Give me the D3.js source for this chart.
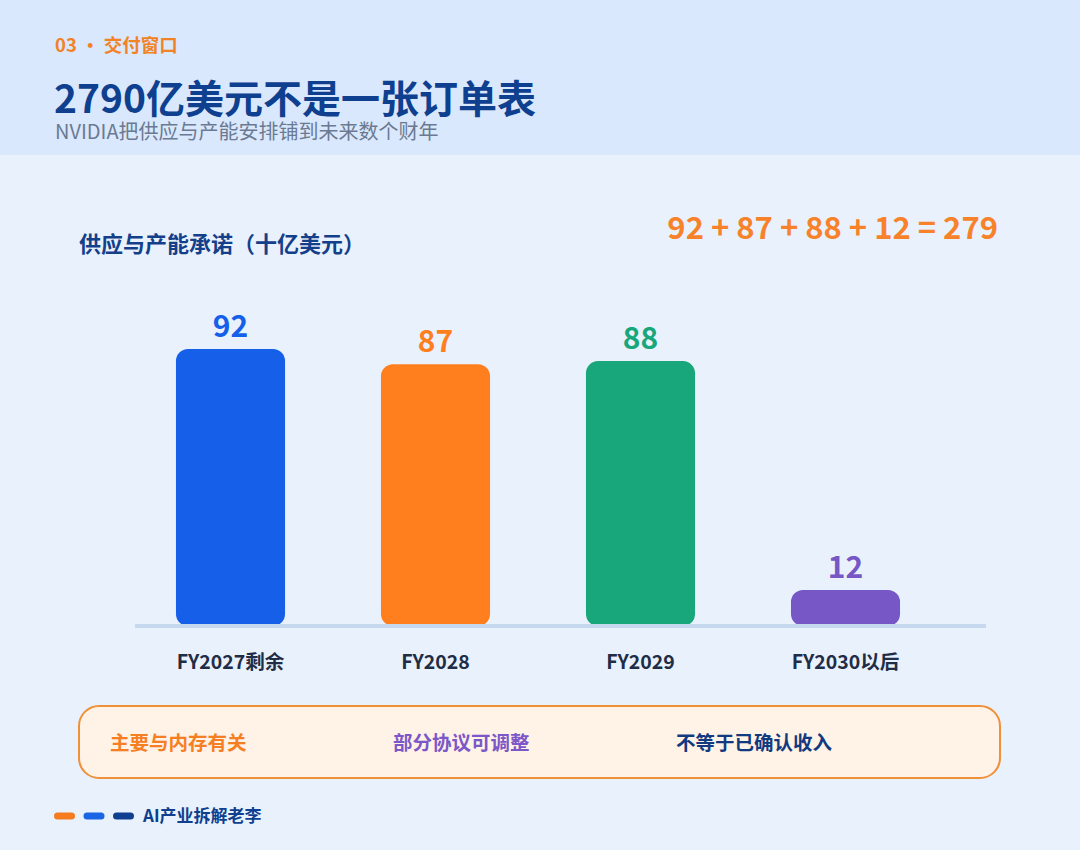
<!DOCTYPE html>
<html>
<head>
<meta charset="utf-8">
<script src="https://cdn.jsdelivr.net/npm/d3@7/dist/d3.min.js"></script>
<style>
  html, body { margin: 0; padding: 0; background: #e9f1fd; }
  svg { display: block; font-family: "Noto Sans CJK SC", "Noto Sans", sans-serif; }
</style>
</head>
<body>
<svg id="chart" width="1080" height="850"></svg>
<script>
// ---- data ----
const categories = ["FY2027剩余", "FY2028", "FY2029", "FY2030以后"];
const values = [92, 87, 88, 12];
const barColors = ["#155fe9", "#ff7e1d", "#18a77a", "#7657c5"];
const notes = ["主要与内存有关", "部分协议可调整", "不等于已确认收入"];
const noteColors = ["#f57f22", "#7b57c8", "#123a80"];
const kicker = "03 · 交付窗口";
const title = "2790亿美元不是一张订单表";
const subtitle = "NVIDIA把供应与产能安排铺到未来数个财年";
const axisTitle = "供应与产能承诺（十亿美元）";
const equation = "92 + 87 + 88 + 12 = 279";
const footerText = "AI产业拆解老李";
const footerPills = ["#f47b20", "#1a64e6", "#0f3f8f"];

const svg = d3.select("#chart");
const W = 1080, H = 850;

// background
svg.append("rect").attr("x", 0).attr("y", 0).attr("width", W).attr("height", H).attr("fill", "#e9f1fd");
svg.append("rect").attr("x", 0).attr("y", 0).attr("width", W).attr("height", 155).attr("fill", "#d9e8fc");

// header texts
svg.append("text").attr("x", 55).attr("y", 52).attr("fill", "#f28226")
  .attr("font-size", 18.5).attr("font-weight", 700).text(kicker);
svg.append("text").attr("x", 54).attr("y", 112.5).attr("fill", "#0f3f8f")
  .attr("font-size", 39).attr("font-weight", 700).text(title);
svg.append("text").attr("x", 55).attr("y", 139).attr("fill", "#6b7a92")
  .attr("font-size", 20).attr("font-weight", 400).text(subtitle);

// chart headings
svg.append("text").attr("x", 79).attr("y", 252).attr("fill", "#143f8a")
  .attr("font-size", 22).attr("font-weight", 700).text(axisTitle);
svg.append("text").attr("x", 998).attr("y", 239).attr("text-anchor", "end").attr("fill", "#f7822a")
  .attr("font-size", 31).attr("font-weight", 700).text(equation);

// scales
const x = d3.scaleBand().domain(categories).range([128, 948]).paddingInner(0.468).paddingOuter(0.234);
const y = d3.scaleLinear().domain([0, 100]).range([626, 325]);

// bars
svg.append("g").selectAll("rect").data(values).join("rect")
  .attr("x", (d, i) => x(categories[i]))
  .attr("y", d => y(d))
  .attr("width", x.bandwidth())
  .attr("height", d => y(0) - y(d))
  .attr("rx", 12).attr("ry", 12)
  .attr("fill", (d, i) => barColors[i]);

// baseline
svg.append("line").attr("x1", 135).attr("x2", 986).attr("y1", y(0)).attr("y2", y(0))
  .attr("stroke", "#c6d9ef").attr("stroke-width", 4);

// value labels
svg.append("g").selectAll("text").data(values).join("text")
  .attr("x", (d, i) => x(categories[i]) + x.bandwidth() / 2)
  .attr("y", d => y(d) - 12)
  .attr("text-anchor", "middle")
  .attr("font-size", 30).attr("font-weight", 700)
  .attr("fill", (d, i) => barColors[i])
  .text(d => d);

// category labels
svg.append("g").selectAll("text").data(categories).join("text")
  .attr("x", d => x(d) + x.bandwidth() / 2)
  .attr("y", 669)
  .attr("text-anchor", "middle")
  .attr("font-size", 19.5).attr("font-weight", 700)
  .attr("fill", "#1f2d46")
  .text(d => d);

// note box
svg.append("rect").attr("x", 79).attr("y", 706).attr("width", 921).attr("height", 72)
  .attr("rx", 20).attr("ry", 20).attr("fill", "#fff2e6").attr("stroke", "#f0913a").attr("stroke-width", 2);
const noteX = [110, 393, 676];
svg.append("g").selectAll("text").data(notes).join("text")
  .attr("x", (d, i) => noteX[i]).attr("y", 750)
  .attr("font-size", 19.5).attr("font-weight", 700)
  .attr("fill", (d, i) => noteColors[i])
  .text(d => d);

// footer
svg.append("g").selectAll("rect").data(footerPills).join("rect")
  .attr("x", (d, i) => 54 + i * 29.5).attr("y", 812.5).attr("width", 21).attr("height", 7)
  .attr("rx", 3.5).attr("fill", d => d);
svg.append("text").attr("x", 143).attr("y", 822).attr("fill", "#0f3f8f")
  .attr("font-size", 17).attr("font-weight", 700).text(footerText);
</script>
</body>
</html>
